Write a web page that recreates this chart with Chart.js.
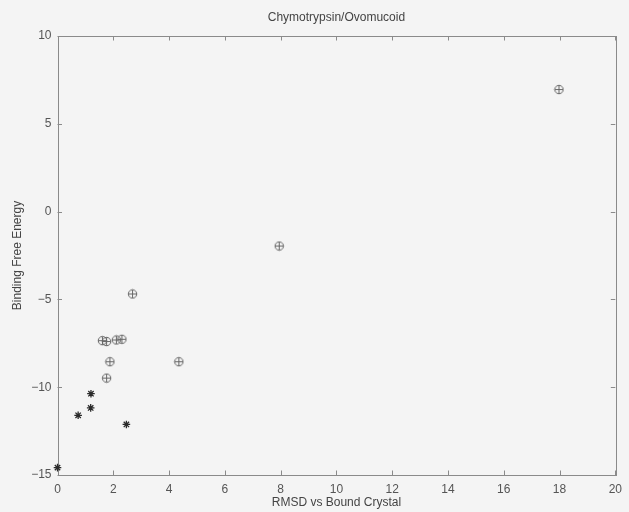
<!DOCTYPE html>
<html>
<head>
<meta charset="utf-8">
<script src="https://cdn.jsdelivr.net/npm/chart.js@4/dist/chart.umd.min.js"></script>
<style>
html,body{margin:0;padding:0;background:#f4f4f4;}
#wrap{width:629px;height:512px;}
</style>
</head>
<body>
<div id="wrap"><canvas id="c" width="629" height="512"></canvas></div>
<script>
const chartTitle = "Chymotrypsin/Ovomucoid";
const xLabel = "RMSD vs Bound Crystal";
const yLabel = "Binding Free Energy";
const xTicks = [0, 2, 4, 6, 8, 10, 12, 14, 16, 18, 20];
const yTicks = [-15, -10, -5, 0, 5, 10];
// circle-plus markers
const circleX = [1.61, 1.76, 2.11, 2.31, 1.88, 1.76, 2.69, 4.35, 7.95, 17.98];
const circleY = [-7.35, -7.40, -7.31, -7.27, -8.55, -9.48, -4.69, -8.55, -1.96, 6.95];
// star markers
const starX = [0.0, 0.74, 1.19, 1.20, 2.47];
const starY = [-14.58, -11.60, -11.18, -10.37, -12.12];

const toPts = (xs, ys) => xs.map((x, i) => ({x: x, y: ys[i]}));

// circle with plus marker image
const cp = document.createElement('canvas');
cp.width = 11; cp.height = 11;
(function(){
  const g = cp.getContext('2d');
  g.strokeStyle = '#666';
  g.lineWidth = 1;
  g.beginPath(); g.arc(5.5, 5.5, 4.2, 0, Math.PI * 2); g.stroke();
  g.beginPath();
  g.moveTo(5.5, 1.3); g.lineTo(5.5, 9.7);
  g.moveTo(1.3, 5.5); g.lineTo(9.7, 5.5);
  g.stroke();
})();

const frame = {
  id: 'frame',
  beforeDraw(chart) {
    const ctx = chart.ctx;
    ctx.save();
    ctx.fillStyle = '#f4f4f4';
    ctx.fillRect(0, 0, chart.width, chart.height);
    ctx.restore();
  },
  beforeDatasetsDraw(chart) {
    const {ctx, chartArea: a} = chart;
    const xs = chart.scales.x, ys = chart.scales.y;
    ctx.save();
    ctx.strokeStyle = '#8a8a8a';
    ctx.lineWidth = 1;
    ctx.strokeRect(Math.round(a.left) + 0.5, Math.round(a.top) + 0.5,
      Math.round(a.right - a.left), Math.round(a.bottom - a.top));
    const L = 4.5;
    ctx.beginPath();
    xTicks.forEach(v => {
      const p = Math.round(xs.getPixelForValue(v)) + 0.5;
      ctx.moveTo(p, a.bottom); ctx.lineTo(p, a.bottom - L);
      ctx.moveTo(p, a.top); ctx.lineTo(p, a.top + L);
    });
    yTicks.forEach(v => {
      const p = Math.round(ys.getPixelForValue(v)) + 0.5;
      ctx.moveTo(a.left, p); ctx.lineTo(a.left + L, p);
      ctx.moveTo(a.right, p); ctx.lineTo(a.right - L, p);
    });
    ctx.stroke();
    ctx.restore();
  }
};

const font = {family: 'Liberation Sans, Arial, sans-serif', size: 12};

new Chart(document.getElementById('c'), {
  type: 'scatter',
  data: {
    datasets: [
      {
        label: 'circle',
        data: toPts(circleX, circleY),
        pointStyle: cp,
        pointRadius: 5,
        clip: false,
        showLine: false
      },
      {
        label: 'star',
        data: toPts(starX, starY),
        pointStyle: 'star',
        pointRadius: 3.8,
        borderColor: '#2a2a2a',
        backgroundColor: '#2a2a2a',
        borderWidth: 1.3,
        clip: false,
        showLine: false
      }
    ]
  },
  options: {
    responsive: false,
    animation: false,
    devicePixelRatio: 1,
    layout: {padding: {left: 0, right: 11.5, top: 0, bottom: 0}},
    plugins: {
      legend: {display: false},
      tooltip: {enabled: false},
      title: {
        display: true,
        text: chartTitle,
        color: '#444',
        font: {family: font.family, size: 12, weight: 'normal'},
        fullSize: false,
        padding: {top: 10, bottom: 11.6}
      }
    },
    scales: {
      x: {
        type: 'linear',
        min: 0, max: 20,
        afterBuildTicks: s => { s.ticks = xTicks.map(v => ({value: v})); },
        afterFit: s => { s.height = 37; },
        grid: {display: false, drawTicks: false},
        border: {display: false},
        ticks: {color: '#555', font: font, padding: 7, maxRotation: 0, autoSkip: false},
        title: {display: true, text: xLabel, color: '#444', font: font, padding: {top: 0, bottom: 2}}
      },
      y: {
        type: 'linear',
        min: -15, max: 10,
        afterBuildTicks: s => { s.ticks = yTicks.map(v => ({value: v})); },
        afterFit: s => { s.width = 57.5; },
        grid: {display: false, drawTicks: false},
        border: {display: false},
        ticks: {color: '#555', font: font, padding: 6, autoSkip: false,
          callback: v => (v < 0 ? '\u2212' + Math.abs(v) : String(v))},
        title: {display: true, text: yLabel, color: '#444', font: font, padding: {top: 10.8, bottom: 0}}
      }
    }
  },
  plugins: [frame]
});
</script>
</body>
</html>
